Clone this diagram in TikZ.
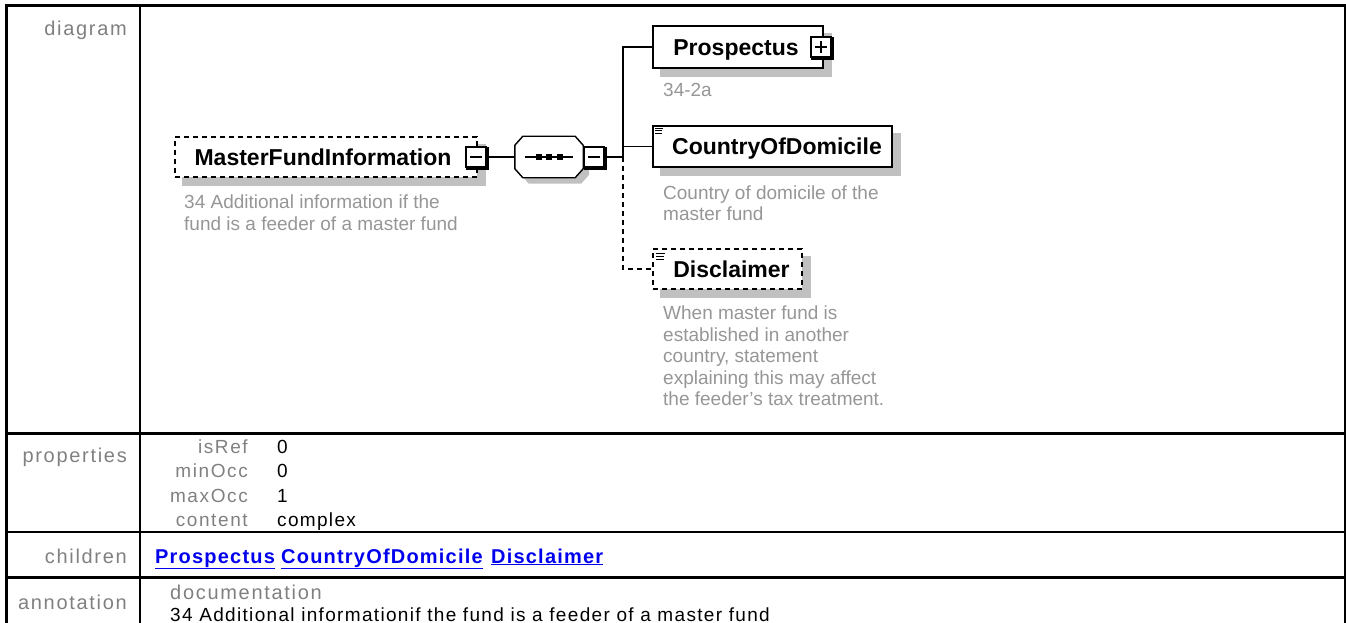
\documentclass[tikz,border=0pt]{standalone}
\usepackage{fontspec}
\setmainfont{Liberation Sans}
\newfontfamily\spacedfont[LetterSpace=8.5]{Liberation Sans}
\newfontfamily\valuefont[LetterSpace=7]{Liberation Sans}
\newfontfamily\linkfont[LetterSpace=6]{Liberation Sans}
\usetikzlibrary{calc,backgrounds}
\definecolor{lblgray}{RGB}{128,128,128}
\definecolor{descgray}{RGB}{150,150,150}
\definecolor{shadowgray}{RGB}{192,192,192}
\definecolor{linkblue}{RGB}{0,0,238}
\begin{document}
\begin{tikzpicture}[x=1pt,y=-1pt,
  frame/.style={line width=2.8pt},
  rowlabel/.style={anchor=base east, inner sep=0, text=lblgray, font=\spacedfont\fontsize{20}{24}\selectfont},
  proplabel/.style={anchor=base east, inner sep=0, text=lblgray, font=\spacedfont\fontsize{19}{23}\selectfont},
  doclabel/.style={anchor=base west, inner sep=0, text=lblgray, font=\spacedfont\fontsize{20}{24}\selectfont},
  propvalue/.style={anchor=base west, inner sep=0, font=\valuefont\fontsize{19}{23}\selectfont},
  childlink/.style={anchor=base west, inner sep=0, text=linkblue, font=\linkfont\bfseries\fontsize{20}{24}\selectfont},
  elembox/.style={draw=black, line width=1.5pt, fill=white, inner sep=0, text height=16.5pt, text depth=0pt, font=\bfseries\fontsize{23}{27}\selectfont},
  optbox/.style={elembox, dash pattern=on 5pt off 4pt},
  ctrlbox/.style={draw=black, line width=1.2pt, fill=white, minimum width=20pt, minimum height=20pt, inner sep=0},
  desc/.style={anchor=base west, inner sep=0, text=descgray, font=\fontsize{19}{22}\selectfont},
  conn/.style={line width=1.4pt},
  optconn/.style={conn, dash pattern=on 5pt off 4pt},
  thickedge/.style={line width=2.8pt},
  iconline/.style={line width=1.1pt},
]
\useasboundingbox (0,0) rectangle (1346,623);
\clip (0,0) rectangle (1346,623);

% ---------- table frame ----------
\draw[frame] (5,5.5) -- (1346,5.5);
\draw[frame] (6.5,4) -- (6.5,623);
\draw[frame] (140,5) -- (140,623);
\draw[line width=1.6pt] (1345,5) -- (1345,623);
\draw[frame] (6,433.5) -- (1346,433.5);
\draw[frame] (6,532) -- (1346,532);
\draw[frame] (6,577.5) -- (1346,577.5);

% ---------- row labels ----------
\node[rowlabel] (lbldiagram) at (127,36) {diagram};
\node[rowlabel] (lblprops) at (127,462) {properties};
\node[rowlabel] (lblchildren) at (127,563) {children};
\node[rowlabel] (lblannot) at (127,609) {annotation};

% ---------- properties ----------
\node[proplabel] (pisref) at (248,453) {isRef};
\node[proplabel] (pminocc) at (248,477) {minOcc};
\node[proplabel] (pmaxocc) at (248,502) {maxOcc};
\node[proplabel] (pcontent) at (248,526) {content};
\node[propvalue] (visref) at (277,453) {0};
\node[propvalue] (vminocc) at (277,477) {0};
\node[propvalue] (vmaxocc) at (277,502) {1};
\node[propvalue] (vcontent) at (277,526) {complex};

% ---------- children ----------
\node[childlink] (lnkpros) at (155,563) {\underline{Prospectus}};
\node[childlink] (lnkcod) at (281,563) {\underline{CountryOfDomicile}};
\node[childlink] (lnkdisc) at (491,563) {\underline{Disclaimer}};

% ---------- annotation ----------
\node[doclabel] (docl) at (170,599) {documentation};
\node[propvalue] (doctext) at (170,621) {34 Additional informationif the fund is a feeder of a master fund};

% ---------- diagram: element boxes ----------
\node[optbox, minimum width=302pt, minimum height=40pt] (mfi) at (326,157) {\hspace*{-6pt}MasterFundInformation};
\node[elembox, minimum width=170pt, minimum height=42pt] (pros) at (738,47) {\hspace*{-4pt}Prospectus};
\node[elembox, minimum width=239pt, minimum height=41pt] (cod) at (772.5,146.5) {\hspace*{9pt}CountryOfDomicile};
\node[optbox, minimum width=149pt, minimum height=40pt] (disc) at (727.5,269) {\hspace*{8pt}Disclaimer};

% sequence compositor (invisible frame node)
\node[minimum width=68pt, minimum height=41pt, inner sep=0] (seq) at (549,157) {};

% shadows
\begin{scope}[on background layer]
\fill[shadowgray] ($(mfi.north west)+(8,8)$) rectangle ($(mfi.south east)+(8,8)$);
\fill[shadowgray] ($(pros.north west)+(8,8)$) rectangle ($(pros.south east)+(8,8)$);
\fill[shadowgray] ($(cod.north west)+(8,8)$) rectangle ($(cod.south east)+(8,8)$);
\fill[shadowgray] ($(disc.north west)+(8,8)$) rectangle ($(disc.south east)+(8,8)$);
\fill[shadowgray] ($(seq.north west)+(14,6)$) -- ($(seq.north east)+(-2,6)$) -- ($(seq.north east)+(6,15)$) -- ($(seq.south east)+(6,-3)$) -- ($(seq.south east)+(-2,6)$) -- ($(seq.south west)+(14,6)$) -- ($(seq.south west)+(6,-3)$) -- ($(seq.north west)+(6,15)$) -- cycle;
\end{scope}

% octagon
\draw[conn, fill=white] ($(seq.north west)+(8,0)$) -- ($(seq.north east)+(-8,0)$) -- ($(seq.north east)+(0,9)$) -- ($(seq.south east)+(0,-9)$) -- ($(seq.south east)+(-8,0)$) -- ($(seq.south west)+(8,0)$) -- ($(seq.south west)+(0,-9)$) -- ($(seq.north west)+(0,9)$) -- cycle;
\draw[conn] ($(seq.center)+(-24,0)$) -- ($(seq.center)+(24,0)$);
\fill ($(seq.center)+(-13.5,-3)$) rectangle +(6,6);
\fill ($(seq.center)+(-3,-3)$) rectangle +(6,6);
\fill ($(seq.center)+(7.5,-3)$) rectangle +(6,6);

% icons (simple content)
\draw[iconline] ($(cod.north west)+(3,3)$) -- +(8,0);
\draw[iconline] ($(cod.north west)+(3,5.5)$) -- +(7,0);
\draw[iconline] ($(cod.north west)+(3,8)$) -- +(7,0);
\draw[iconline] ($(disc.north west)+(4,5)$) -- +(9,0);
\draw[iconline] ($(disc.north west)+(4,8)$) -- +(8,0);
\draw[iconline] ($(disc.north west)+(4,11)$) -- +(8,0);

% control boxes
\node[ctrlbox] (mfictl) at (476,157) {};
\draw[thickedge] ($(mfictl.south west)+(1,1.2)$) -- ($(mfictl.south east)+(1.2,1.2)$) -- ($(mfictl.north east)+(1.2,1)$);
\draw[line width=1.2pt] ($(mfictl.center)+(-6,0)$) -- ($(mfictl.center)+(6,0)$);

\node[ctrlbox] (seqctl) at (594,157) {};
\draw[thickedge] ($(seqctl.south west)+(1,1.2)$) -- ($(seqctl.south east)+(1.2,1.2)$) -- ($(seqctl.north east)+(1.2,1)$);
\draw[line width=1.2pt] ($(seqctl.center)+(-6,0)$) -- ($(seqctl.center)+(6,0)$);

\node[ctrlbox] (prosctl) at (821,47) {};
\draw[thickedge] ($(prosctl.south west)+(1,1.2)$) -- ($(prosctl.south east)+(1.2,1.2)$) -- ($(prosctl.north east)+(1.2,1)$);
\draw[line width=1.2pt] ($(prosctl.center)+(-6,0)$) -- ($(prosctl.center)+(6,0)$);
\draw[line width=1.2pt] ($(prosctl.center)+(0,-6)$) -- ($(prosctl.center)+(0,6)$);

% connectors
\coordinate (spine) at (623,157);
\draw[conn] (mfictl.east) -- (seq.west);
\draw[conn] (seqctl.east) -- (spine);
\draw[conn] (spine) |- (pros.west);
\draw[conn] (spine) |- (cod.west);
\draw[optconn] (spine) |- (disc.west);

% descriptions
\node[desc] (mfid1) at (184,208) {34 Additional information if the};
\node[desc] (mfid2) at (184,230) {fund is a feeder of a master fund};
\node[desc] (prosd1) at (663,97) {34-2a};
\node[desc] (codd1) at (663,199) {Country of domicile of the};
\node[desc] (codd2) at (663,220) {master fund};
\node[desc] (discd1) at (663,319) {When master fund is};
\node[desc] (discd2) at (663,341) {established in another};
\node[desc] (discd3) at (663,362) {country, statement};
\node[desc] (discd4) at (663,384) {explaining this may affect};
\node[desc] (discd5) at (663,405) {the feeder's tax treatment.};
\end{tikzpicture}
\end{document}
